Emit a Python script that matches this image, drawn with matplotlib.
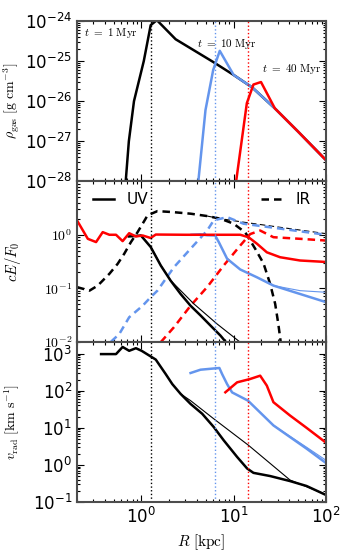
import numpy as np
import matplotlib
matplotlib.use("Agg")
import matplotlib.pyplot as plt
from matplotlib.lines import Line2D
from matplotlib.ticker import NullFormatter

plt.rcParams["mathtext.fontset"] = "cm"

BLUE = "#6495ED"
RED = "red"

# radius of each front [kpc] at t = 1, 10, 40 Myr
r_front = [1.28, 6.24, 14.3]
front_colors = ["black", BLUE, RED]

# ---- gas density
r_rho_1 = [0.67, 0.73, 0.83, 1.06, 1.26, 1.47, 2.35, 6.0, 10, 15.9, 28, 50, 100]
rho_1 = [8e-29, 1e-27, 1e-26, 1e-25, 7.9e-25, 1.05e-24, 3.5e-25, 9.5e-26, 4.5e-26,
         2.2e-26, 6.6e-27, 1.74e-27, 3.4e-28]
r_rho_10 = [4.1, 4.95, 6.0, 7.07, 10, 15.9, 28, 50, 100]
rho_10 = [8e-29, 6e-27, 6e-26, 1.8e-25, 4.5e-26, 2.2e-26, 6.6e-27, 1.74e-27, 3.4e-28]
r_rho_40 = [10.5, 13.9, 16.4, 19.8, 28, 50, 100]
rho_40 = [8e-29, 8.9e-27, 2.6e-26, 3.0e-26, 6.6e-27, 1.74e-27, 3.4e-28]

# ---- radiation energy density, UV
r_uv_1 = [0.73, 0.87, 0.986, 1.26, 1.62, 2.07, 2.66, 3.41, 4.37, 5.61, 7.19, 8.6]
uv_1 = [0.93, 0.95, 0.97, 0.59, 0.266, 0.139, 0.078, 0.047, 0.031, 0.020, 0.013, 0.009]
r_uv_1_thin = [0.986, 1.26, 1.62, 2.07, 3.7, 6.6, 12.5]
uv_1_thin = [0.97, 0.6, 0.27, 0.14, 0.051, 0.0215, 0.009]
r_uv_10 = [3.5, 4.37, 5.16, 6.3, 6.9, 8.5, 11.8, 17.9, 27, 52.5, 100]
uv_10 = [1.0, 1.02, 0.98, 0.97, 0.73, 0.355, 0.224, 0.16, 0.112, 0.078, 0.055]
r_uv_10_thin = [27, 52.5, 100]
uv_10_thin = [0.112, 0.09, 0.084]
r_uv_40 = [0.2, 0.262, 0.322, 0.38, 0.449, 0.53, 0.625, 0.736, 0.871, 1.03, 1.26,
           1.43, 3.0, 6.0, 11.8, 14.5, 17.9, 22.9, 31.9, 52.5, 100]
uv_40 = [1.86, 0.84, 0.73, 1.12, 1.0, 1.0, 0.76, 1.07, 0.93, 0.97, 0.87,
         1.01, 1.0, 1.0, 1.0, 0.90, 0.68, 0.47, 0.38, 0.33, 0.31]

# ---- radiation energy density, IR
r_ir_1 = [0.2, 0.273, 0.336, 0.38, 0.449, 0.552, 0.65, 0.769, 0.908, 1.11, 1.16,
          1.49, 2.16, 3.41, 5.16, 7.19, 10, 13.4, 17.1, 21.1, 24.9, 28.2, 30.5, 32.4]
ir_1 = [0.105, 0.09, 0.112, 0.139, 0.186, 0.286, 0.44, 0.73, 1.12, 2.0, 2.3,
        2.77, 2.66, 2.48, 2.24, 2.0, 1.61, 1.1, 0.55, 0.29, 0.12, 0.051, 0.0215, 0.0098]
r_ir_1_thin = [5.16, 7.19, 12.8, 30, 100]
ir_1_thin = [2.24, 2.0, 1.72, 1.40, 1.05]
r_ir_10 = [0.468, 0.575, 0.736, 1.03, 1.26, 1.49, 2.25, 3.41, 5.16, 6.08, 8.5, 12.8, 100]
ir_10 = [0.01, 0.0139, 0.0286, 0.047, 0.068, 0.090, 0.247, 0.547, 1.2, 1.86, 2.14, 1.61, 1.0]
r_ir_40 = [1.62, 2.25, 3.41, 5.16, 7.8, 11.8, 15.1, 19.4, 27, 52.5, 100]
ir_40 = [0.0098, 0.0186, 0.047, 0.105, 0.266, 0.63, 1.03, 1.2, 0.90, 0.84, 0.78]

# ---- radial velocity
r_v_1 = [0.365, 0.53, 0.625, 0.736, 0.871, 1.01, 1.43, 1.83, 2.16, 2.66, 3.41, 4.56,
         6.08, 7.8, 10.9, 14.0, 16.4, 24.9, 40.9, 61.7, 100]
v_1 = [970, 970, 1510, 1190, 1400, 1180, 690, 282, 151, 82, 44, 23.9,
       10.5, 4.6, 1.64, 0.8, 0.61, 0.50, 0.366, 0.27, 0.155]
r_v_1_thin = [2.66, 3.41, 6.08, 14.5, 40.9, 100]
v_1_thin = [82, 54, 17.5, 3.37, 0.39, 0.16]
r_v_10 = [3.41, 4.37, 7.0, 7.5, 8.5, 9.62, 14.3, 27, 61.7, 100]
v_10 = [300, 368, 410, 280, 150, 90, 54, 11.6, 2.75, 1.13]
r_v_10_thin = [27, 61.7, 100]
v_10_thin = [11.6, 3.0, 1.34]
r_v_40 = [8.13, 10.9, 15.1, 19.4, 22.9, 27, 40.9, 61.7, 100]
v_40 = [90.6, 168, 207, 254, 137, 49, 21.4, 10, 4.0]

fig, (ax1, ax2, ax3) = plt.subplots(3, 1, sharex=True, figsize=(3.5, 5.6), dpi=100)
fig.subplots_adjust(left=0.22, right=0.931, top=0.9625, bottom=0.1036, hspace=0)

lw = 1.8
thin = 0.8

ax1.plot(r_rho_1, rho_1, color="black", lw=lw)
ax1.plot(r_rho_10, rho_10, color=BLUE, lw=lw)
ax1.plot(r_rho_40, rho_40, color=RED, lw=lw)
ax1.text(0.24, 5e-25, r"$t\ =\ 1\ \mathrm{Myr}$", fontsize=8, va="center")
ax1.text(4.05, 2.66e-25, r"$t\ =\ 10\ \mathrm{Myr}$", fontsize=8, va="center")
ax1.text(20.4, 6.3e-26, r"$t\ =\ 40\ \mathrm{Myr}$", fontsize=8, va="center")

ax2.plot(r_ir_1, ir_1, color="black", lw=lw, ls="--", dashes=(3, 2))
ax2.plot(r_ir_1_thin, ir_1_thin, color="black", lw=thin, ls="--", dashes=(5, 3))
ax2.plot(r_ir_10, ir_10, color=BLUE, lw=lw, ls="--", dashes=(3, 2))
ax2.plot(r_ir_40, ir_40, color=RED, lw=lw, ls="--", dashes=(3, 2))
ax2.plot(r_uv_1, uv_1, color="black", lw=lw)
ax2.plot(r_uv_1_thin, uv_1_thin, color="black", lw=thin)
ax2.plot(r_uv_10, uv_10, color=BLUE, lw=lw)
ax2.plot(r_uv_10_thin, uv_10_thin, color=BLUE, lw=thin)
ax2.plot(r_uv_40, uv_40, color=RED, lw=lw)

uv_handle = Line2D([], [], color="black", lw=lw)
ir_handle = Line2D([], [], color="black", lw=lw, ls="--", dashes=(3, 2))
leg1 = ax2.legend([uv_handle], ["UV"], loc="upper left", frameon=False, fontsize=11,
                  handlelength=1.4, borderaxespad=0.3, bbox_to_anchor=(0.02, 1.0))
ax2.add_artist(leg1)
ax2.legend([ir_handle], ["IR"], loc="upper right", frameon=False, fontsize=11,
           handlelength=1.4, borderaxespad=0.3, bbox_to_anchor=(0.98, 1.0))

ax3.plot(r_v_1, v_1, color="black", lw=lw)
ax3.plot(r_v_1_thin, v_1_thin, color="black", lw=thin)
ax3.plot(r_v_10, v_10, color=BLUE, lw=lw)
ax3.plot(r_v_10_thin, v_10_thin, color=BLUE, lw=thin)
ax3.plot(r_v_40, v_40, color=RED, lw=lw)

for ax in (ax1, ax2, ax3):
    ax.set_xscale("log")
    ax.set_yscale("log")
    for r, c in zip(r_front, front_colors):
        ax.axvline(r, color=c, ls=":", lw=1)
    ax.tick_params(which="both", direction="in", top=True, right=True, width=0.8)
    ax.tick_params(which="major", length=5)
    ax.tick_params(which="minor", length=2.5)
    for s in ax.spines.values():
        s.set_linewidth(1.5)
        s.set_color("0.3")
    ax.yaxis.set_minor_formatter(NullFormatter())
    ax.xaxis.set_minor_formatter(NullFormatter())

ax3.set_xlim(0.2, 100)

ax1.set_ylim(1e-28, 1e-24)
ax1.set_yticks([1e-28, 1e-27, 1e-26, 1e-25, 1e-24],
               [r"$10^{-28}$", r"$10^{-27}$", r"$10^{-26}$", r"$10^{-25}$", r"$10^{-24}$"],
               math_fontfamily="dejavusans", fontsize=12)
ax2.set_ylim(1e-2, 10)
ax2.set_yticks([1e-2, 1e-1, 1], [r"$10^{-2}$", r"$10^{-1}$", r"$10^{0}$"], fontsize=10)
ax3.set_ylim(0.1, 2100)
ax3.set_yticks([0.1, 1, 10, 100, 1000],
               [r"$10^{-1}$", r"$10^{0}$", r"$10^{1}$", r"$10^{2}$", r"$10^{3}$"],
               math_fontfamily="dejavusans", fontsize=12)
ax3.set_xticks([1, 10, 100], [r"$10^{0}$", r"$10^{1}$", r"$10^{2}$"],
               math_fontfamily="dejavusans", fontsize=12)

ax1.set_ylabel(r"$\rho_{\rm gas}\ [{\rm g\ cm^{-3}}]$", fontsize=10)
ax2.set_ylabel(r"$cE/F_0$", fontsize=10.5)
ax3.set_ylabel(r"$v_{\rm rad}\ [{\rm km\ s^{-1}}]$", fontsize=10)
ax3.set_xlabel(r"$R\ [{\rm kpc}]$", fontsize=11)
ax1.yaxis.set_label_coords(-0.225, 0.5)
ax2.yaxis.set_label_coords(-0.215, 0.5)
ax3.yaxis.set_label_coords(-0.22, 0.5)

fig.savefig("out.png", dpi=100)
